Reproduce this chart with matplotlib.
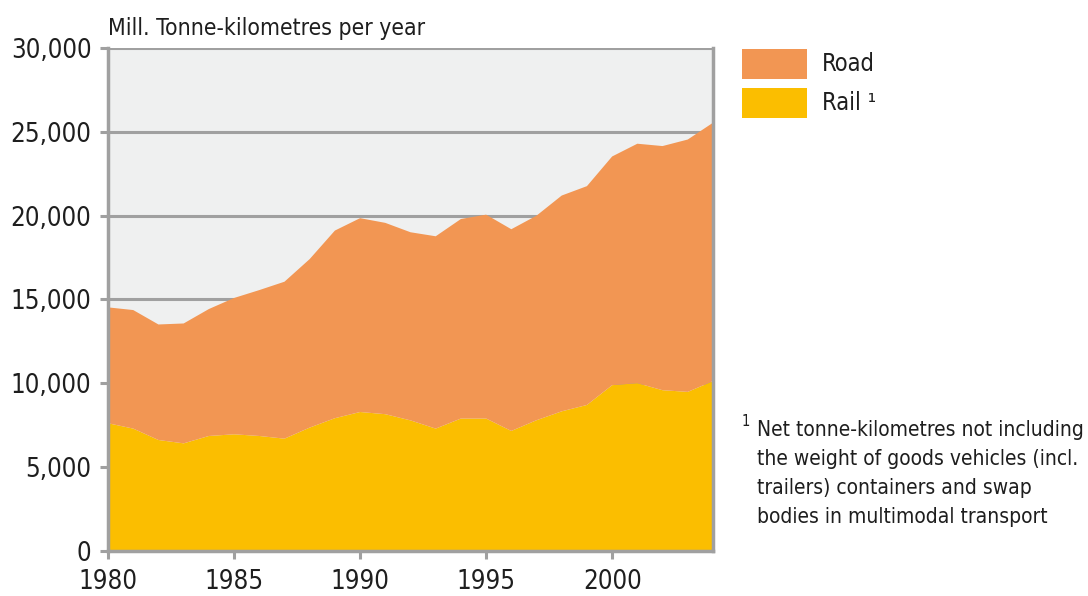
import matplotlib.pyplot as plt
from matplotlib.patches import Rectangle
from matplotlib.ticker import FuncFormatter

plt.rcParams['font.family'] = ['DejaVu Sans']
plt.rcParams['font.stretch'] = 'condensed'

# Freight transport, million tonne-km per year
years = list(range(1980, 2005))
rail = [7620, 7300, 6620, 6420, 6860, 6960, 6860, 6700, 7360, 7920,
        8290, 8160, 7790, 7300, 7900, 7900, 7160, 7800, 8330, 8710,
        9890, 10010, 9590, 9490, 10130]
road = [6910, 7070, 6890, 7150, 7570, 8130, 8700, 9360, 10050, 11190,
        11560, 11410, 11220, 11470, 11900, 12160, 12030, 12200, 12870, 13050,
        13640, 14280, 14560, 15050, 15410]
labels = ['Road', 'Rail \u00b9']
colors = ['#f29653', '#fbbe00']
grey = '#a0a0a0'
text_color = '#1e1e1e'

fig = plt.figure(figsize=(10.88, 5.96), dpi=100)
ax = fig.add_axes([0.0993, 0.0755, 0.5560, 0.844])
ax.set_facecolor('#eff0f0')

ax.stackplot(years, rail, road, colors=[colors[1], colors[0]], linewidth=0, zorder=2)

ax.set_xlim(1980, 2004)
ax.set_ylim(0, 30000)
ax.set_xticks([1980, 1985, 1990, 1995, 2000])
ax.set_yticks(range(0, 30001, 5000))
ax.yaxis.set_major_formatter(FuncFormatter(lambda v, p: f'{int(v):,}'))
ax.grid(axis='y', color=grey, linewidth=2.2, zorder=1)
ax.set_axisbelow(True)

for side in ['left', 'right', 'bottom', 'top']:
    ax.spines[side].set_color(grey)
    ax.spines[side].set_linewidth(2.5)
ax.spines['top'].set_visible(False)

ax.tick_params(axis='both', colors=grey, width=2.2, length=6,
               labelsize=18.5, labelcolor=text_color)
ax.tick_params(axis='x', pad=7)
ax.tick_params(axis='y', pad=6)

fig.text(108 / 1088, 1 - 28 / 596, 'Mill. Tonne-kilometres per year',
         fontsize=16.5, color=text_color, va='center', ha='left')

# legend
for i, (lab, col) in enumerate(zip(labels, colors)):
    y0 = 49 + i * 39
    fig.patches.append(Rectangle((742 / 1088, 1 - (y0 + 30) / 596), 65 / 1088, 30 / 596,
                                 transform=fig.transFigure, facecolor=col,
                                 edgecolor='none'))
    fig.text(822 / 1088, 1 - (y0 + 15) / 596, lab, fontsize=17,
             color=text_color, va='center', ha='left')

# footnote
fig.text(742 / 1088, 1 - 422 / 596, '1', fontsize=10.5, color=text_color,
         va='center', ha='left')
note = ['Net tonne-kilometres not including',
        'the weight of goods vehicles (incl.',
        'trailers) containers and swap',
        'bodies in multimodal transport']
for i, line in enumerate(note):
    fig.text(757 / 1088, 1 - (430 + i * 29) / 596, line, fontsize=15,
             color=text_color, va='center', ha='left')

fig.savefig('out.png', dpi=100)
